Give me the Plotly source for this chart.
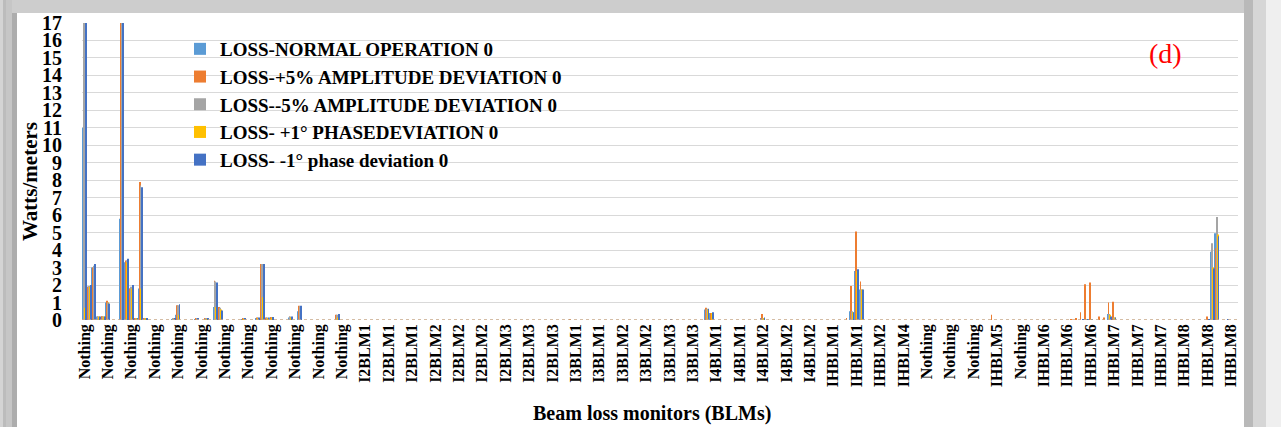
import plotly.graph_objects as go

# ---------------- data ----------------
N_CATEGORIES = 247          # category slots along the x axis (every 5th one is labelled)
LABEL_STEP = 5

tick_labels = (
    ["Nothing"] * 12
    + ["I2BLM1"] * 3 + ["I2BLM2"] * 3 + ["I2BLM3"] * 3
    + ["I3BLM1"] * 2 + ["I3BLM2"] * 2 + ["I3BLM3"] * 2
    + ["I4BLM1"] * 2 + ["I4BLM2"] * 3
    + ["IHBLM1"] * 2 + ["IHBLM2", "IHBLM4"]
    + ["Nothing"] * 3 + ["IHBLM5", "Nothing"]
    + ["IHBLM6"] * 3 + ["IHBLM7"] * 3 + ["IHBLM8"] * 3
)

# categories that carry a visible loss (all others are ~0)
peak_idx = [0, 1, 2, 3, 4, 5, 8, 9, 10, 11, 12, 13, 19, 20, 24, 26, 28, 29, 34, 37,
            38, 39, 40, 44, 46, 54, 104, 125, 133, 134, 145, 163, 164, 165, 166, 194,
            211, 212, 213, 214, 215, 217, 218, 219, 220, 240, 241, 242, 244]

normal = [11.0, 1.9, 3.0, 0.2, 0.2, 1.0, 5.8, 3.3, 1.8, 0.1, 1.8, 0.1, 0.05, 0.3, 0.05, 0.05, 0.75, 0.7, 0.05, 0.1,
          1.3, 0.1, 0.15, 0.15, 0.5, 0.15, 0.0, 0.0, 0.6, 0.4, 0.1, 0.0, 0.5, 2.8, 1.75, 0.0,
          0.0, 0.0, 0.0, 0.05, 0.05, 0.0, 0.0, 0.35, 0.15, 0.0, 3.9, 4.96, 0.0]
amp_plus5 = [17.0, 1.9, 3.0, 0.2, 0.22, 1.1, 17.0, 3.4, 1.8, 0.1, 7.9, 0.1, 0.1, 0.85, 0.1, 0.1, 2.25, 0.75, 0.1, 0.15,
             3.2, 0.15, 0.17, 0.2, 0.82, 0.3, 0.05, 0.0, 0.7, 0.4, 0.35, 0.1, 1.95, 5.06, 2.2, 0.3,
             0.05, 0.1, 0.45, 2.04, 2.14, 0.2, 0.15, 1.0, 1.05, 0.2, 3.75, 4.1, 0.0]
amp_minus5 = [17.0, 1.95, 3.1, 0.2, 0.2, 1.0, 17.0, 3.4, 1.9, 0.1, 7.7, 0.1, 0.1, 0.85, 0.1, 0.1, 2.2, 0.7, 0.1, 0.15,
              3.2, 0.15, 0.17, 0.2, 0.8, 0.3, 0.0, 0.0, 0.65, 0.4, 0.1, 0.0, 0.5, 2.8, 1.75, 0.0,
              0.0, 0.0, 0.0, 0.05, 0.05, 0.0, 0.0, 0.35, 0.15, 0.0, 4.4, 5.9, 0.0]
phase_plus1 = [0.7, 1.9, 3.0, 0.2, 0.2, 1.0, 0.5, 3.3, 1.8, 0.1, 1.8, 0.1, 0.05, 0.3, 0.05, 0.05, 0.75, 0.6, 0.05, 0.1,
               1.3, 0.1, 0.15, 0.15, 0.5, 0.15, 0.0, 0.0, 0.6, 0.4, 0.1, 0.0, 0.45, 2.8, 1.75, 0.0,
               0.0, 0.0, 0.0, 0.05, 0.05, 0.0, 0.0, 0.3, 0.15, 0.0, 3.0, 4.9, 0.0]
phase_minus1 = [17.0, 2.0, 3.2, 0.2, 0.2, 0.95, 17.0, 3.5, 2.0, 0.1, 7.6, 0.1, 0.1, 0.9, 0.1, 0.1, 2.15, 0.55, 0.1, 0.15,
                3.2, 0.15, 0.17, 0.2, 0.82, 0.34, 0.0, 0.05, 0.65, 0.45, 0.15, 0.0, 0.45, 2.9, 1.75, 0.0,
                0.0, 0.0, 0.05, 0.05, 0.05, 0.0, 0.0, 0.2, 0.15, 0.05, 2.95, 4.8, 0.05]

series_names = [
    "LOSS-NORMAL OPERATION 0",
    "LOSS-+5% AMPLITUDE DEVIATION 0",
    "LOSS--5% AMPLITUDE DEVIATION 0",
    "LOSS- +1° PHASEDEVIATION 0",
    "LOSS- -1° phase deviation 0",
]
series_values = [normal, amp_plus5, amp_minus5, phase_plus1, phase_minus1]
series_colors = ["#5B9BD5", "#ED7D31", "#A5A5A5", "#FFC000", "#4472C4"]

# ---------------- build ----------------
x_pos = list(range(N_CATEGORIES))


def expand(vals):
    full = [0.0] * N_CATEGORIES
    for i, v in zip(peak_idx, vals):
        full[i] = v
    return full


FONT = "Liberation Serif"
fig = go.Figure()
for name, vals, col in zip(series_names, series_values, series_colors):
    fig.add_trace(go.Bar(x=x_pos, y=expand(vals), name=name,
                         marker=dict(color=col, line=dict(width=0))))

# layout geometry (pixels)
W, H = 1281, 427
ML, MR, MT, MB = 82, 43, 23, 107
PW, PH = W - ML - MR, H - MT - MB


def px_x(p):
    return (p - ML) / PW


def px_y(p):
    return (H - MB - p) / PH


shapes = []
# picture frame / shadow around the chart
frame = [
    (0, 0, W, 13, "#cdcdcd"),
    (0, 0, 3, H, "#d4d4d4"),
    (3, 0, 6, H, "#bcbcbc"),
    (6, 0, 12, H, "#c6c6c6"),
    (12, 13, 17, H, "#adadad"),
    (1244, 0, 1253, H, "#b9b9b9"),
    (1253, 0, 1266, H, "#d6d6d6"),
    (1266, 0, W, H, "#efefef"),
]
for x0, y0, x1, y1, c in frame:
    shapes.append(dict(type="rect", xref="paper", yref="paper",
                       x0=px_x(x0), x1=px_x(x1), y0=px_y(y1), y1=px_y(y0),
                       fillcolor=c, line=dict(width=0), layer="above"))
# dashed baseline made by tiny bars
shapes.append(dict(type="line", xref="paper", yref="y", x0=0, x1=1, y0=0, y1=0,
                   line=dict(color="#c8a888", width=1.5, dash="dot"), layer="above"))

fig.update_layout(
    width=W, height=H,
    margin=dict(l=ML, r=MR, t=MT, b=MB, autoexpand=False),
    paper_bgcolor="white", plot_bgcolor="white",
    barmode="group", bargap=0.15, bargroupgap=0,
    font=dict(family=FONT, color="black"),
    showlegend=True,
    legend=dict(x=px_x(180), y=px_y(30), xanchor="left", yanchor="top",
                bgcolor="rgba(0,0,0,0)",
                font=dict(family=FONT, size=19, color="black", weight="bold"),
                traceorder="normal", itemwidth=30, tracegroupgap=0),
    xaxis=dict(range=[-0.5, N_CATEGORIES - 0.5],
               tickmode="array",
               tickvals=x_pos[::LABEL_STEP],
               ticktext=tick_labels,
               tickangle=-90,
               tickfont=dict(family=FONT, size=16, color="black", weight="bold"),
               showgrid=False, zeroline=False, showline=False, ticks=""),
    yaxis=dict(range=[0, 17], dtick=1, tick0=0,
               tickfont=dict(family=FONT, size=20, color="black", weight="bold"),
               gridcolor="#d9d9d9", gridwidth=1,
               zeroline=False, showline=False, ticks="",
               ticklabelstandoff=19),
    shapes=shapes,
    annotations=[
        dict(text="Beam loss monitors (BLMs)", xref="paper", yref="paper",
             x=px_x(652), y=px_y(413), xanchor="center", yanchor="middle", showarrow=False,
             font=dict(family=FONT, size=20, color="black", weight="bold")),
        dict(text="Watts/meters", xref="paper", yref="paper",
             x=px_x(30), y=px_y(182), xanchor="center", yanchor="middle", showarrow=False,
             textangle=-90,
             font=dict(family=FONT, size=21, color="black", weight="bold")),
        dict(text="(d)", xref="paper", yref="paper",
             x=px_x(1165), y=px_y(53), xanchor="center", yanchor="middle", showarrow=False,
             font=dict(family=FONT, size=28, color="#ff0000")),
    ],
)

fig.write_html("out.html",
               config={"displayModeBar": False},
               post_script="document.body.style.margin='0';document.body.style.overflow='hidden';")
